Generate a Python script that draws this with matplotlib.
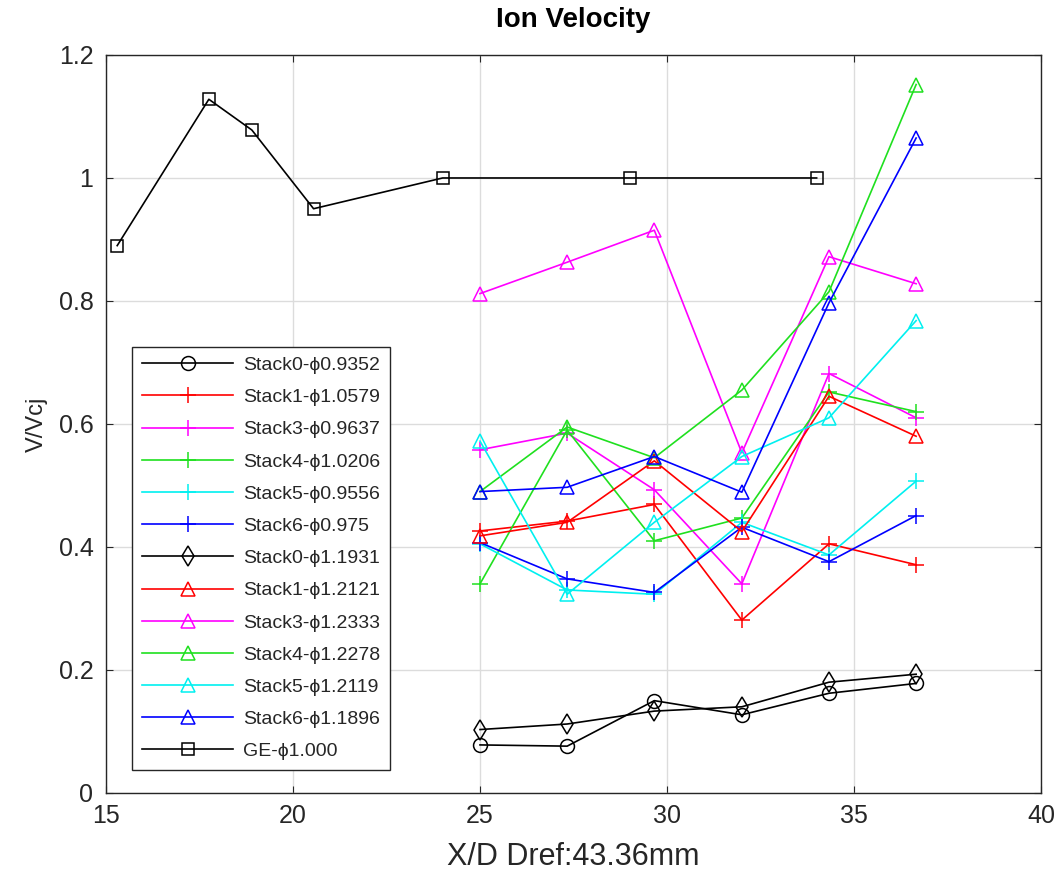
import matplotlib
matplotlib.use("Agg")
import matplotlib.pyplot as plt

plt.rcParams["font.family"] = ["Liberation Sans", "DejaVu Sans"]

# X/D stations for the stacks
x_stack = [25.0, 27.33, 29.66, 32.0, 34.33, 36.66]

s0_lean = [0.078, 0.076, 0.150, 0.127, 0.162, 0.178]
s1_lean = [0.426, 0.442, 0.469, 0.281, 0.405, 0.371]
s3_lean = [0.558, 0.585, 0.493, 0.340, 0.682, 0.610]
s4_lean = [0.340, 0.590, 0.410, 0.447, 0.652, 0.620]
s5_lean = [0.405, 0.330, 0.323, 0.440, 0.387, 0.507]
s6_lean = [0.407, 0.348, 0.326, 0.432, 0.376, 0.451]

s0_rich = [0.103, 0.112, 0.133, 0.140, 0.180, 0.193]
s1_rich = [0.418, 0.440, 0.540, 0.425, 0.645, 0.580]
s3_rich = [0.812, 0.863, 0.915, 0.553, 0.872, 0.828]
s4_rich = [0.490, 0.595, 0.545, 0.655, 0.815, 1.152]
s5_rich = [0.572, 0.323, 0.440, 0.547, 0.610, 0.768]
s6_rich = [0.490, 0.497, 0.547, 0.489, 0.797, 1.065]

x_ge = [15.3, 17.75, 18.9, 20.55, 24.0, 29.0, 34.0]
y_ge = [0.89, 1.128, 1.078, 0.95, 1.0, 1.0, 1.0]

# matlab-like colours
K, R, M, G, C, B = "#000000", "#ff0000", "#ff00ff", "#1fe01f", "#00f0f0", "#0000ff"

PHI = "\u03d5"
series = [
    (x_stack, s0_lean, K, "o", f"Stack0-{PHI}0.9352"),
    (x_stack, s1_lean, R, "+", f"Stack1-{PHI}1.0579"),
    (x_stack, s3_lean, M, "+", f"Stack3-{PHI}0.9637"),
    (x_stack, s4_lean, G, "+", f"Stack4-{PHI}1.0206"),
    (x_stack, s5_lean, C, "+", f"Stack5-{PHI}0.9556"),
    (x_stack, s6_lean, B, "+", f"Stack6-{PHI}0.975"),
    (x_stack, s0_rich, K, "d", f"Stack0-{PHI}1.1931"),
    (x_stack, s1_rich, R, "^", f"Stack1-{PHI}1.2121"),
    (x_stack, s3_rich, M, "^", f"Stack3-{PHI}1.2333"),
    (x_stack, s4_rich, G, "^", f"Stack4-{PHI}1.2278"),
    (x_stack, s5_rich, C, "^", f"Stack5-{PHI}1.2119"),
    (x_stack, s6_rich, B, "^", f"Stack6-{PHI}1.1896"),
    (x_ge, y_ge, K, "s", f"GE-{PHI}1.000"),
]

fig = plt.figure(figsize=(10.61, 8.8), dpi=100)
ax = fig.add_axes([0.0999, 0.099, 0.8813, 0.8385])

for xs, ys, c, m, lab in series:
    ms = 12 if m == "+" else (8.5 if m == "s" else 10)
    ax.plot(xs, ys, color=c, marker=m, markersize=ms, markerfacecolor="none",
            markeredgewidth=1.1, linewidth=1.2, label=lab)

ax.set_xlim(15, 40)
ax.set_ylim(0, 1.2)
ax.set_xticks([15, 20, 25, 30, 35, 40])
ax.set_yticks([0, 0.2, 0.4, 0.6, 0.8, 1.0, 1.2])
ax.set_yticklabels(["0", "0.2", "0.4", "0.6", "0.8", "1", "1.2"])
ax.grid(True, color="#dcdcdc", linewidth=1.0)
ax.set_axisbelow(True)
ax.tick_params(direction="in", top=True, right=True, labelsize=18,
               colors="#262626", length=5)
ax.tick_params(axis="x", pad=8)
ax.tick_params(axis="y", pad=9)
for sp in ax.spines.values():
    sp.set_color("#262626")
    sp.set_linewidth(1.0)

ax.set_title("Ion Velocity", fontsize=20, fontweight="bold", pad=20)
ax.set_xlabel("X/D Dref:43.36mm", fontsize=22, color="#262626", labelpad=10)
ax.set_ylabel("V/Vcj", fontsize=17, color="#262626", labelpad=8)

leg = ax.legend(loc="lower left", bbox_to_anchor=(0.028, 0.031), fontsize=14,
                handlelength=4.7, labelspacing=0.75, borderpad=0.5,
                handletextpad=0.5, frameon=True, fancybox=False,
                edgecolor="#262626", framealpha=1, borderaxespad=0)
leg.get_frame().set_linewidth(1.0)
for t in leg.get_texts():
    t.set_color("#262626")

fig.savefig("out.png", dpi=100)
